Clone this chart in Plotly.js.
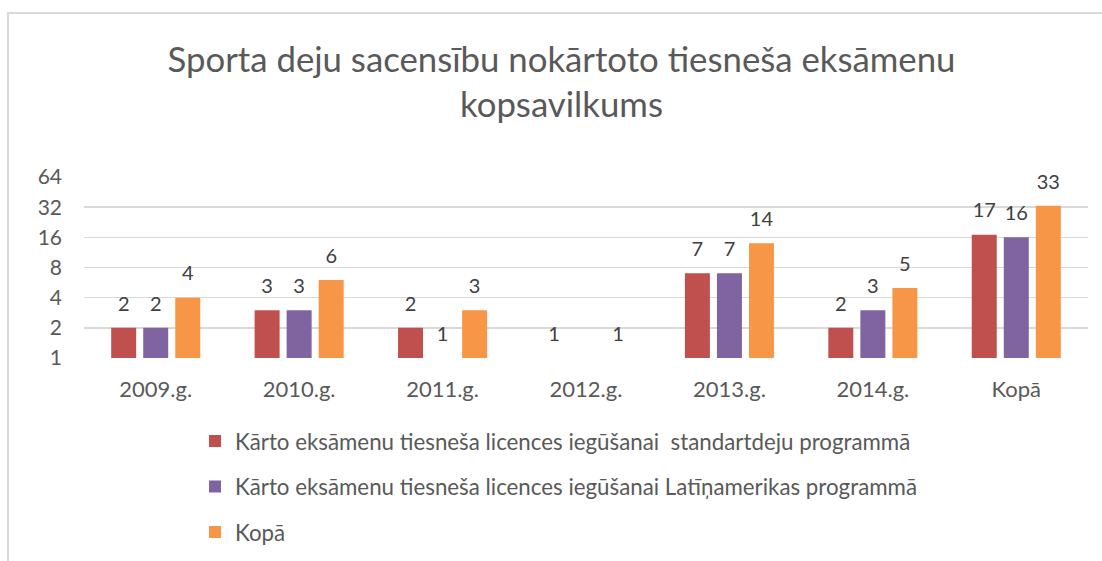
<!DOCTYPE html>
<html>
<head>
<meta charset="utf-8">
<script src="https://cdn.plot.ly/plotly-3.0.1.min.js"></script>
<style>html,body{margin:0;padding:0;background:#fff;}#chart{width:1102px;height:561px;}</style>
</head>
<body>
<div id="chart"></div>
<script>
const categories = ["2009.g.", "2010.g.", "2011.g.", "2012.g.", "2013.g.", "2014.g.", "Kopā"];
const standard = [2, 3, 2, 1, 7, 2, 17];
const latin = [2, 3, 1, null, 7, 3, 16];
const total = [4, 6, 3, 1, 14, 5, 33];
const seriesNames = [
  "Kārto eksāmenu tiesneša licences iegūšanai  standartdeju programmā",
  "Kārto eksāmenu tiesneša licences iegūšanai Latīņamerikas programmā",
  "Kopā"
];
const yTicks = [1, 2, 4, 8, 16, 32, 64];
const colors = ["#C0504D", "#8064A2", "#F79646"];

const FONT = "Lato, 'Liberation Sans', sans-serif";
const series = [standard, latin, total];

const barTraces = series.map((vals, i) => ({
  type: "bar",
  x: categories,
  y: vals,
  name: seriesNames[i],
  legendgroup: "g" + i,
  offsetgroup: "s" + i,
  alignmentgroup: "a",
  marker: {color: colors[i]},
  hoverinfo: "skip"
}));

// data labels, grouped like the bars
const labelTraces = series.map((vals, i) => ({
  type: "scatter",
  mode: "markers+text",
  x: categories,
  y: vals,
  text: vals.map(v => v === null ? "" : String(v)),
  textposition: "top center",
  marker: {size: 18, color: "rgba(0,0,0,0)"},
  textfont: {family: FONT, size: 20, color: "#404040"},
  cliponaxis: false,
  showlegend: false,
  offsetgroup: "s" + i,
  alignmentgroup: "a",
  hoverinfo: "skip"
}));

const L = 84, R = 1088, T = 177, B = 358;
const pw = R - L, ph = B - T;
const px = x => (x - L) / pw;
const py = y => (B - y) / ph;

const layout = {
  width: 1102, height: 561,
  margin: {l: L, r: 1102 - R, t: T, b: 561 - B, autoexpand: false},
  paper_bgcolor: "#fff", plot_bgcolor: "#fff",
  font: {family: FONT, color: "#595959"},
  title: {
    text: "Sporta deju sacensību nokārtoto tiesneša eksāmenu<br>kopsavilkums",
    font: {family: FONT, size: 34.75, color: "#595959"},
    x: px(561.5), xanchor: "center", xref: "paper",
    y: 0.872, yanchor: "middle", yref: "container"
  },
  barmode: "group",
  bargap: 0.33,
  bargroupgap: 0.22,
  scattermode: "group",
  scattergap: 0.33,
  xaxis: {
    showgrid: false, zeroline: false,
    showline: false, ticks: "",
    tickfont: {family: FONT, size: 22, color: "#595959"},
    ticklabelstandoff: 16,
    automargin: false,
    fixedrange: true
  },
  yaxis: {
    type: "log",
    range: [0, Math.log10(64)],
    tickvals: yTicks,
    ticktext: yTicks.map(String),
    showgrid: true, gridcolor: "#d9d9d9", gridwidth: 1.5,
    zeroline: false, showline: false,
    tickfont: {family: FONT, size: 21, color: "#595959"},
    ticklabelstandoff: 21,
    automargin: false,
    fixedrange: true
  },
  showlegend: true,
  legend: {
    orientation: "v",
    x: px(195), xanchor: "left",
    y: py(420), yanchor: "top",
    traceorder: "grouped",
    tracegroupgap: 13.5,
    font: {family: FONT, size: 22.3, color: "#595959"},
    bgcolor: "rgba(0,0,0,0)"
  },
  shapes: [{
    type: "rect", xref: "paper", yref: "paper",
    x0: px(8), x1: px(1120), y0: py(600), y1: py(13),
    line: {color: "#d9d9d9", width: 2}, fillcolor: "rgba(0,0,0,0)", layer: "below"
  }]
};

Plotly.newPlot("chart", barTraces.concat(labelTraces), layout, {displayModeBar: false, staticPlot: true});
</script>
</body>
</html>
